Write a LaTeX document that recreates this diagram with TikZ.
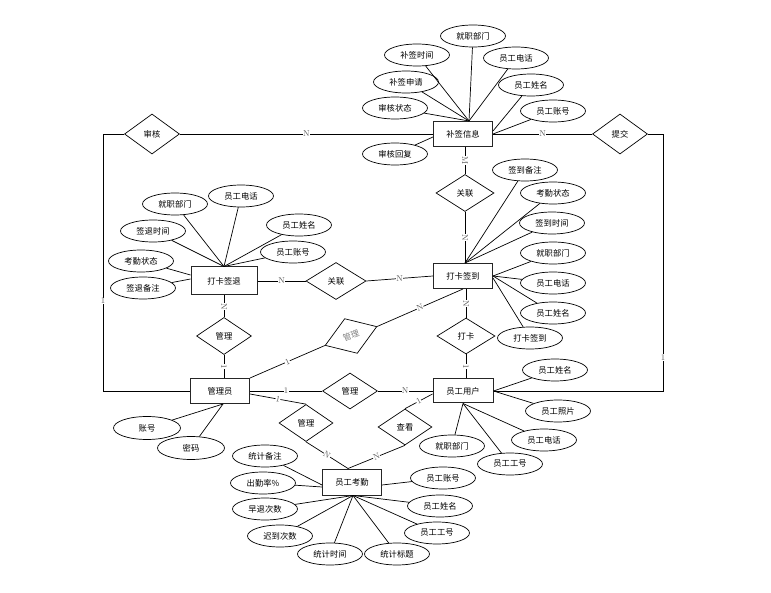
\documentclass[tikz,border=0pt]{standalone}
\usepackage{fontspec}
\newfontfamily\cjk{Noto Sans CJK SC}
\usetikzlibrary{shapes.geometric,calc}
\begin{document}
\begin{tikzpicture}[x=1pt,y=-1pt,
  cjkfont/.style={font=\cjk\fontsize{8.3}{10}\selectfont},
  ent/.style={draw=black!85,line width=1pt,fill=white,minimum width=59pt,minimum height=25pt,inner sep=0pt,cjkfont},
  attr/.style={ellipse,draw,line width=0.7pt,fill=white,minimum width=65pt,minimum height=22pt,inner sep=0pt,cjkfont},
  rel/.style={diamond,draw,line width=0.7pt,fill=white,minimum width=55pt,minimum height=37pt,inner sep=0pt,aspect=1.5,cjkfont},
  ln/.style={line width=0.7pt},
  lab/.style={font=\fontsize{8.5}{9}\selectfont,text=black!65,fill=white,inner sep=0.3pt}
]
\useasboundingbox (0,0) rectangle (771,593);

% entities
\node[ent] (bq)  at (463,134) {补签信息};
\node[ent,minimum width=66pt,minimum height=28pt] (qt)  at (224,281) {打卡签退};
\node[ent] (qd)  at (463,276) {打卡签到};
\node[ent] (gly) at (220,391) {管理员};
\node[ent,minimum width=60pt,minimum height=24pt] (yh)  at (463,391) {员工用户};
\node[ent,minimum height=26pt] (kq)  at (352,482) {员工考勤};

% relations
\node[rel,minimum height=40pt] (sh) at (152,134) {审核};
\node[rel,minimum height=40pt] (tj) at (620,134) {提交};
\node[rel,minimum width=58pt] (gl1) at (465,193) {关联};
\node[rel,minimum width=60pt] (gl2) at (336,281) {关联};
\node[rel] (gl3) at (224,336) {管理};
\node[rel,rotate=20,text=black!50] (gl4) at (351,336) {管理};
\node[rel,minimum width=58pt,minimum height=36pt] (dk) at (466,336) {打卡};
\node[rel,minimum height=36pt] (gl5) at (350,391) {管理};
\node[rel,minimum width=54pt] (gl6) at (306,423) {管理};
\node[rel,minimum width=54pt,minimum height=36pt] (ck) at (405,427) {查看};

% attributes of 补签信息
\node[attr] (a1) at (473,36) {就职部门};
\node[attr] (a2) at (417,55) {补签时间};
\node[attr] (a3) at (406,82) {补签申请};
\node[attr] (a4) at (395,108) {审核状态};
\node[attr] (a5) at (516,58) {员工电话};
\node[attr] (a6) at (531,85) {员工姓名};
\node[attr] (a7) at (553,111) {员工账号};
\node[attr] (a8) at (395,154) {审核回复};
\coordinate (bqt) at ($(bq.north)+(6,0)$);
\foreach \a in {a1,a2,a3,a4,a5} \draw[ln] (\a) -- (bqt);
\draw[ln] (a6) -- ($(bq.east)+(0,-3)$);
\draw[ln] (a7) -- ($(bq.east)+(0,0)$);
\draw[ln] (a8) -- ($(bq.west)+(0,3)$);

% attributes of 打卡签退
\node[attr] (b1) at (175,204) {就职部门};
\node[attr] (b2) at (241,196) {员工电话};
\node[attr] (b3) at (153,231) {签退时间};
\node[attr] (b4) at (299,225) {员工姓名};
\node[attr] (b5) at (141,261) {考勤状态};
\node[attr] (b6) at (293,252) {员工账号};
\node[attr] (b7) at (143,288) {签退备注};
\foreach \a in {b1,b2,b3,b4,b6} \draw[ln] (\a) -- (qt.north);
\draw[ln] (b5) -- ($(qt.west)+(0,-6)$);
\draw[ln] (b7) -- ($(qt.west)+(0,-2)$);

% attributes of 打卡签到
\node[attr] (c1) at (525,170) {签到备注};
\node[attr] (c2) at (553,193) {考勤状态};
\node[attr] (c3) at (552,223) {签到时间};
\node[attr] (c4) at (553,253) {就职部门};
\node[attr] (c5) at (553,283) {员工电话};
\node[attr] (c6) at (553,313) {员工姓名};
\node[attr] (c7) at (530,338) {打卡签到};
\coordinate (qdt) at (gl1.south |- qd.north);
\foreach \a in {c1,c2,c3} \draw[ln] (\a) -- (qdt);
\foreach \a in {c4,c5,c6} \draw[ln] (\a) -- (qd.east);
\draw[ln] (c7) -- ($(qd.east)+(0,2)$);

% attributes of 员工用户
\node[attr] (d1) at (555,370) {员工姓名};
\node[attr] (d2) at (558,411) {员工照片};
\node[attr] (d3) at (544,440) {员工电话};
\node[attr] (d4) at (510,464) {员工工号};
\node[attr] (d5) at (452,446) {就职部门};
\draw[ln] (d1) -- (yh.east);
\draw[ln] (d2) -- (yh.east);
\foreach \a in {d3,d4,d5} \draw[ln] (\a) -- (yh.south);

% attributes of 管理员
\node[attr,minimum width=67pt,minimum height=23pt] (e1) at (147,428) {账号};
\node[attr,minimum width=67pt,minimum height=23pt] (e2) at (191,448) {密码};
\draw[ln] (e1) -- ($(gly.south)+(3,0)$);
\draw[ln] (e2) -- ($(gly.south)+(3,0)$);

% attributes of 员工考勤
\node[attr] (f1) at (265,456) {统计备注};
\node[attr] (f2) at (263,483) {出勤率\%};
\node[attr] (f3) at (265,509) {早退次数};
\node[attr] (f4) at (280,536) {迟到次数};
\node[attr] (f5) at (330,554) {统计时间};
\node[attr] (f6) at (397,554) {统计标题};
\node[attr] (f7) at (437,533) {员工工号};
\node[attr] (f8) at (440,506) {员工姓名};
\node[attr] (f9) at (443,478) {员工账号};
\draw[ln] (f1) -- ($(kq.west)+(0,3)$);
\draw[ln] (f2) -- ($(kq.west)+(0,5)$);
\foreach \a in {f3,f4,f5,f6,f7,f8} \draw[ln] (\a) -- ($(kq.south)+(1,0)$);
\draw[ln] (f9) -- ($(kq.east)+(0,3)$);

% relationship connectors
\coordinate (lt) at (103,134);
\coordinate (lb) at (103,391);
\coordinate (rt) at (663,134);
\coordinate (rb) at (663,391);
\draw[ln] (bq.west) -- node[lab]{N} (sh.east);
\draw[ln] (sh.west) -- (lt) -- node[lab,pos=0.65]{1} (lb) -- (gly.west);
\draw[ln] (bq.east) -- node[lab]{N} (tj.west);
\draw[ln] (tj.east) -- (rt) -- node[lab,pos=0.87]{1} (rb) -- (yh.east);

\draw[ln] (gl1.north |- bq.south) -- node[lab,sloped]{M} (gl1.north);
\draw[ln] (gl1.south) -- node[lab,sloped]{N} (qdt);

\draw[ln] (qt.east) -- node[lab]{N} (gl2.west);
\draw[ln] (gl2.east) -- node[lab]{N} (qd.west);

\draw[ln] (gl3.north |- qt.south) -- node[lab,sloped]{N} (gl3.north);
\draw[ln] (gl3.south) -- node[lab,sloped]{1} (gl3.south |- gly.north);

\draw[ln] (gly.north east) -- node[lab,sloped]{1} (gl4.west);
\draw[ln] (gl4.east) -- node[lab,sloped]{N} (qd.south);

\draw[ln] (dk.north |- qd.south) -- node[lab,sloped]{N} (dk.north);
\draw[ln] (dk.south) -- node[lab,sloped]{1} (dk.south |- yh.north);

\draw[ln] (gly.east) -- node[lab]{1} (gl5.west);
\draw[ln] (gl5.east) -- node[lab]{N} (yh.west);

\coordinate (kqt) at ($(kq.north)+(-4,0)$);
\draw[ln] ($(gly.east)+(0,3)$) -- node[lab,sloped]{1} (gl6.north);
\draw[ln] (gl6.south) -- node[lab,sloped]{N} (kqt);
\draw[ln] (kqt) -- node[lab,sloped]{N} (ck.south);
\draw[ln] (ck.north) -- node[lab,sloped]{1} ($(yh.west)+(0,3)$);
\end{tikzpicture}
\end{document}
